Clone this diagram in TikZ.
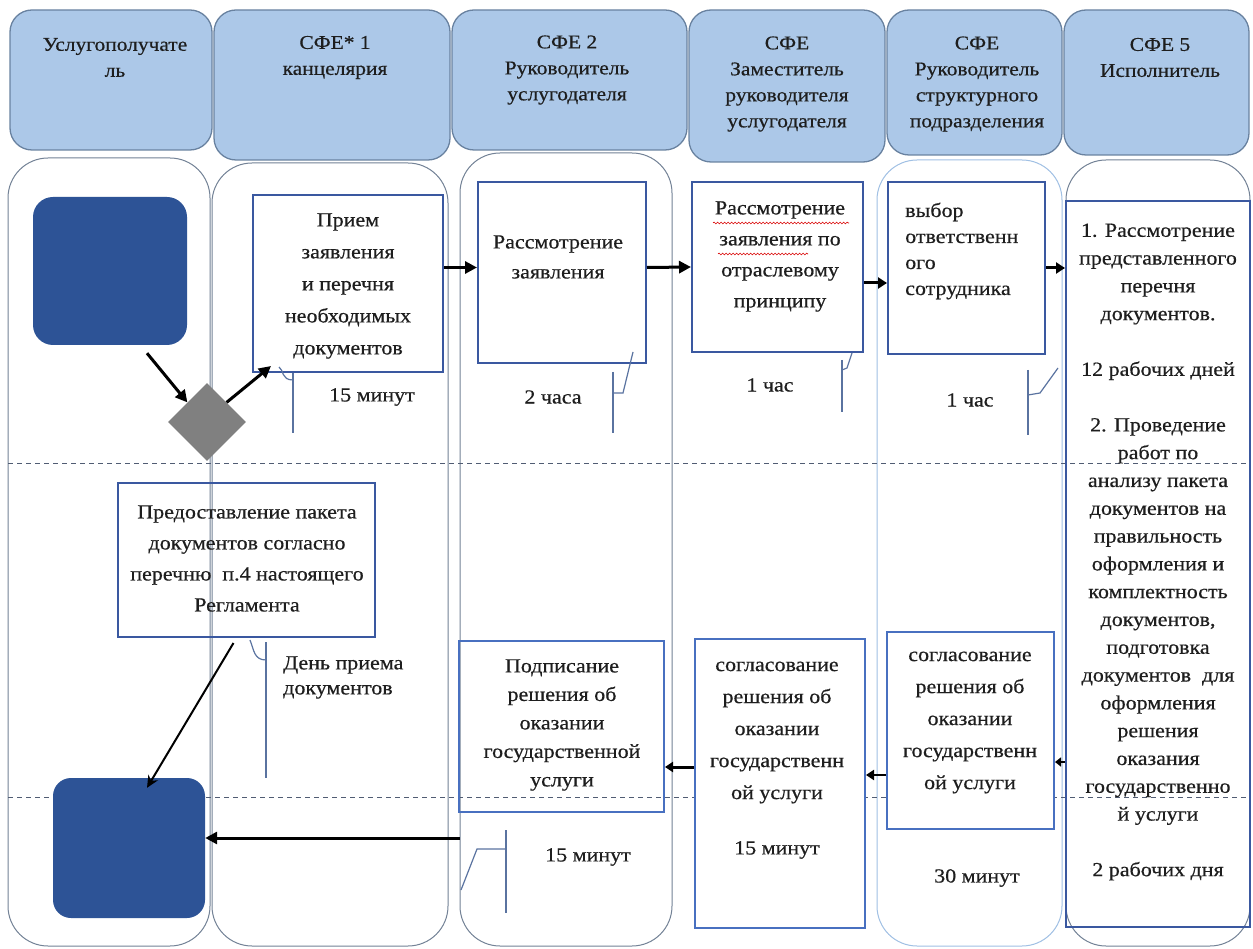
\documentclass[tikz,border=0pt]{standalone}
\usepackage{fontspec}
\setmainfont{Liberation Serif}[FakeStretch=1.1,FakeBold=0.5]
\usetikzlibrary{arrows.meta,shapes.geometric,decorations.pathmorphing,calc}
\definecolor{hdrfill}{RGB}{172,200,232}
\definecolor{hdrline}{RGB}{105,130,160}
\definecolor{laneline}{RGB}{115,130,150}
\definecolor{lanelight}{RGB}{160,192,228}
\definecolor{boxline}{RGB}{58,88,160}
\definecolor{boxlight}{RGB}{72,112,192}
\definecolor{navy}{RGB}{45,83,150}
\definecolor{dgray}{RGB}{128,128,128}
\definecolor{callout}{RGB}{90,115,160}
\definecolor{dashc}{RGB}{80,92,115}
\definecolor{inkc}{RGB}{30,30,30}
\begin{document}
\begin{tikzpicture}[x=1pt,y=-1pt,
  hdr/.style={draw=hdrline,fill=hdrfill,line width=1.3,rounded corners=22,inner sep=0},
  lane/.style={draw=laneline,fill=white,line width=1,rounded corners=40,inner sep=0},
  procbox/.style={draw=boxline,line width=2,inner sep=0},
  procboxl/.style={draw=boxlight,line width=2,inner sep=0},
  navybox/.style={fill=navy,rounded corners=20,inner sep=0},
  txt/.style={inner sep=0,align=center,text=inkc,font=\fontsize{20}{28}\selectfont},
  htxt/.style={inner sep=0,align=center,text=inkc,font=\fontsize{19.5}{26}\selectfont},
  arr/.style={line width=3,-{Triangle[length=12,width=12]}},
  thinarr/.style={line width=2,-{Stealth[length=12,width=11]}},
  co/.style={draw=callout,line width=1.2},
  sep/.style={draw=dashc,line width=1,dash pattern=on 5pt off 4pt},
  squig/.style={draw=red!85!black,line width=0.6,decorate,decoration={snake,amplitude=0.9,segment length=3.5}}
]
\useasboundingbox (0,0) rectangle (1253,949);

% headers
\node[hdr,minimum width=202,minimum height=140] (h1) at (111,80) {};
\node[hdr,minimum width=236,minimum height=150] (h2) at (332,85) {};
\node[hdr,minimum width=235,minimum height=140] (h3) at (569.5,80) {};
\node[hdr,minimum width=196,minimum height=152] (h4) at (787,86) {};
\node[hdr,minimum width=175,minimum height=145] (h5) at (974.5,82.5) {};
\node[hdr,minimum width=185,minimum height=145] (h6) at (1156.5,82.5) {};
\node[htxt] (ht1) at (115,57.5) {Услугополучате\\ль};
\node[htxt] (ht2) at (335,57.5) {СФЕ* 1\\канцелярия};
\node[htxt] (ht3) at (567,70) {СФЕ 2\\Руководитель\\услугодателя};
\node[htxt] (ht4) at (787,84) {СФЕ\\Заместитель\\руководителя\\услугодателя};
\node[htxt] (ht5) at (977,84) {СФЕ\\Руководитель\\структурного\\подразделения};
\node[htxt] (ht6) at (1160,57.5) {СФЕ 5\\Исполнитель};

% lanes
\node[lane,minimum width=202,minimum height=788] (l1) at (109,552) {};
\node[lane,minimum width=236,minimum height=783] (l2) at (330,554.5) {};
\node[lane,minimum width=212,minimum height=793] (l3) at (566,549.5) {};
\node[lane,draw=lanelight,minimum width=185,minimum height=786] (l5) at (969.5,553) {};
\node[lane,minimum width=184,minimum height=786] (l6) at (1158,553) {};

% dashed separators
\coordinate (s1a) at (8,463); \coordinate (s1b) at (1250,463);
\coordinate (s2a) at (8,797); \coordinate (s2b) at (1250,797);
\draw[sep] (s1a) -- (s1b);
\draw[sep] (s2a) -- (s2b);

% start / end
\node[navybox,minimum width=154,minimum height=148] (sq1) at (110,271) {};
\node[navybox,rounded corners=18,minimum width=152,minimum height=140] (sq2) at (129,848) {};
\node[diamond,fill=dgray,inner sep=0,minimum width=78,minimum height=78] (dm) at (207,422) {};

% process boxes
\node[procbox,fill=white,minimum width=190,minimum height=177] (b1) at (348,283.5) {};
\node[procbox,fill=white,minimum width=168,minimum height=181] (b2) at (562,272.5) {};
\node[procbox,fill=white,minimum width=171,minimum height=170] (b3) at (777.5,267) {};
\node[procbox,fill=white,minimum width=157,minimum height=172] (b4) at (966.5,268) {};
\node[procbox,minimum width=184,minimum height=726] (b5) at (1158,564) {};
\node[procbox,minimum width=257,minimum height=154] (b6) at (246.5,560) {};
\node[procboxl,minimum width=205,minimum height=171] (b7) at (561.5,726.5) {};
\node[procboxl,fill=white,minimum width=170,minimum height=289] (b8) at (780,783.5) {};
\node[procboxl,fill=white,minimum width=167,minimum height=197] (b9) at (970.5,730.5) {};

% box texts
\node[txt,font=\fontsize{20}{32}\selectfont] (tb1) at (348,286) {Прием\\заявления\\и перечня\\необходимых\\документов};
\node[txt,font=\fontsize{20}{30}\selectfont] (tb2) at (558,257) {Рассмотрение\\заявления};
\node[txt,font=\fontsize{20}{31}\selectfont] (tb3) at (780,256.5) {Рассмотрение\\заявления по\\отраслевому\\принципу};
\node[txt,align=left,anchor=west,font=\fontsize{20}{26}\selectfont] (tb4) at (905,251) {выбор\\ответственн\\ого\\сотрудника};
\node[txt,font=\fontsize{20}{27.8}\selectfont] (tb5) at (1158,552) {1. Рассмотрение\\представленного\\перечня\\документов.\\[27.8pt]12 рабочих дней\\[27.8pt]2. Проведение\\работ по\\анализу пакета\\документов на\\правильность\\оформления и\\комплектность\\документов,\\подготовка\\документов~ для\\оформления\\решения\\оказания\\государственно\\й услуги\\[27.8pt]2 рабочих дня};
\node[txt,font=\fontsize{20}{31}\selectfont] (tb6) at (247,558.5) {Предоставление пакета\\документов согласно\\перечню~ п.4 настоящего\\Регламента};
\node[txt,font=\fontsize{20}{28.5}\selectfont] (tb7) at (562,725) {Подписание\\решения об\\оказании\\государственной\\услуги};
\node[txt,font=\fontsize{20}{32}\selectfont] (tb8) at (777,732.5) {согласование\\решения об\\оказании\\государственн\\ой услуги};
\node[txt,font=\fontsize{20}{32}\selectfont] (tb9) at (970,722.5) {согласование\\решения об\\оказании\\государственн\\ой услуги};

% spell-check squiggles
\coordinate (q1a) at (713,223); \coordinate (q1b) at (849,223);
\coordinate (q2a) at (718,254); \coordinate (q2b) at (808,254);
\draw[squig] (q1a) -- (q1b);
\draw[squig] (q2a) -- (q2b);

% durations
\node[txt] (d1) at (372,397) {15 минут};
\node[txt] (d2) at (553,397) {2 часа};
\node[txt] (d3) at (770,385) {1 час};
\node[txt] (d4) at (970,400) {1 час};
\node[txt,align=left,anchor=west,font=\fontsize{20}{25}\selectfont] (d5) at (283,677.5) {День приема\\документов};
\node[txt] (d6) at (588,857) {15 минут};
\node[txt] (d7) at (777,850) {15 минут};
\node[txt] (d8) at (977,878) {30 минут};

% callout brackets
\coordinate (c1a) at (293,373); \coordinate (c1b) at (293,433);
\coordinate (c1h) at (279,367); \coordinate (c1m) at (293,380);
\draw[co] (c1a) -- (c1b);
\draw[co] (c1h) .. controls (284,370) and (281,380) .. (c1m);
\coordinate (c2a) at (613,372); \coordinate (c2b) at (613,433);
\coordinate (c2m) at (613,393); \coordinate (c2h) at (633,352);
\draw[co] (c2a) -- (c2b);
\draw[co] (c2m) -- ++(10,0) -- (c2h);
\coordinate (c3a) at (842,360); \coordinate (c3b) at (842,412);
\coordinate (c3m) at (842,370); \coordinate (c3h) at (852,353);
\draw[co] (c3a) -- (c3b);
\draw[co] (c3m) -- ++(5,-2) -- (c3h);
\coordinate (c4a) at (1028,370); \coordinate (c4b) at (1028,435);
\coordinate (c4m) at (1028,395); \coordinate (c4h) at (1058,368);
\draw[co] (c4a) -- (c4b);
\draw[co] (c4m) -- ++(12,-2) -- (c4h);
\coordinate (c5a) at (266,642); \coordinate (c5b) at (266,778);
\coordinate (c5h) at (250,640); \coordinate (c5m) at (266,660);
\draw[co] (c5a) -- (c5b);
\draw[co] (c5h) .. controls (254,650) and (254,660) .. (c5m);
\coordinate (c6a) at (506,830); \coordinate (c6b) at (506,913);
\coordinate (c6m) at (506,849); \coordinate (c6h) at (461,890);
\draw[co] (c6a) -- (c6b);
\draw[co] (c6m) -- ++(-29,0) -- (c6h);

% connectors
\draw[arr] ([shift={(37,8)}]sq1.south) -- (dm.north west);
\draw[arr] (dm.north east) -- ([shift={(19,-7)}]b1.south west);
\draw[arr] ([shift={(0,-16)}]b1.east) -- ([shift={(0,-5)}]b2.west);
\draw[arr] ([shift={(0,-5)}]b2.east) -- (b3.west);
\draw[arr,-{Triangle[length=9,width=11]}] ([shift={(0,16)}]b3.east) -- ([shift={(0,15)}]b4.west);
\draw[arr,-{Triangle[length=9,width=11]}] (b4.east) -- ([shift={(0,-296)}]b5.west);
\draw[arr,line width=2.4,-{Triangle[length=6,width=9]}] ([shift={(0,198)}]b5.west) -- ([shift={(0,31.5)}]b9.east);
\draw[arr,line width=2.6,-{Triangle[length=8,width=10]}] ([shift={(0,44.5)}]b9.west) -- ([shift={(0,-8.5)}]b8.east);
\draw[arr,line width=3,-{Triangle[length=8,width=10]}] ([shift={(0,-16.5)}]b8.west) -- ([shift={(0,40.5)}]b7.east);
\draw[thinarr] ([shift={(-13,5)}]b6.south) -- ([shift={(18,10)}]sq2.north);
\draw[arr,line width=3] ([shift={(0,288.5)}]l3.west) -- ([shift={(0,-10)}]sq2.east);
\end{tikzpicture}
\end{document}
